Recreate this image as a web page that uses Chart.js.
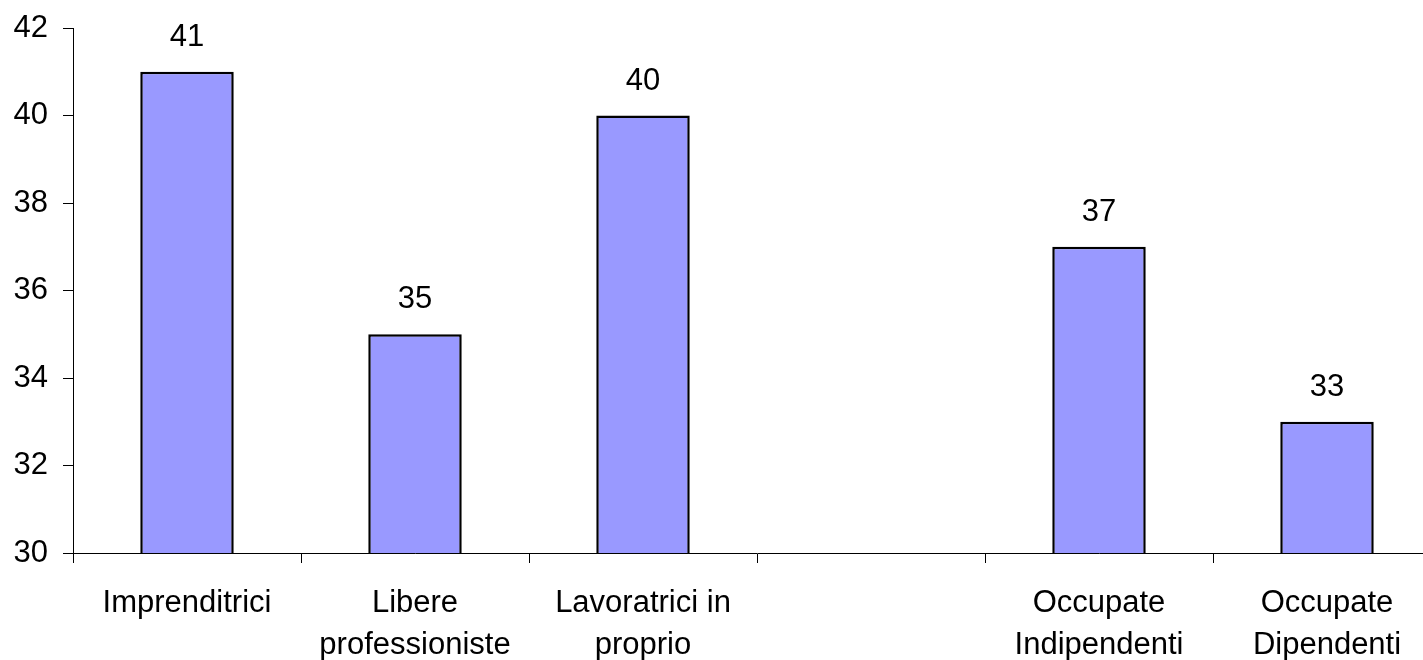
<!DOCTYPE html>
<html>
<head>
<meta charset="utf-8">
<script src="https://cdn.jsdelivr.net/npm/chart.js@4/dist/chart.umd.min.js"></script>
<style>
  html, body { margin: 0; padding: 0; background: #fff; overflow: hidden; }
  #wrap { width: 1460px; height: 660px; }
</style>
</head>
<body>
<div id="wrap"><canvas id="bar-chart" width="1460" height="660"></canvas></div>
<script>
// categorie (lo slot vuoto separa i due gruppi)
var categorie = [
    'Imprenditrici',
    ['Libere', 'professioniste'],
    ['Lavoratrici in', 'proprio'],
    '',
    ['Occupate', 'Indipendenti'],
    ['Occupate', 'Dipendenti']
];
var valori = [41, 35, 40, null, 37, 33];
var yMin = 30, yMax = 42, yStep = 2;

var fontTesto = { family: "'Liberation Sans', Arial, sans-serif", size: 31 };

// etichette sopra le barre
const etichetteValori = {
    id: 'etichetteValori',
    afterDatasetsDraw(chart) {
        const ctx = chart.ctx;
        const meta = chart.getDatasetMeta(0);
        ctx.save();
        ctx.font = fontTesto.size + 'px ' + fontTesto.family;
        ctx.fillStyle = '#000';
        ctx.textAlign = 'center';
        ctx.textBaseline = 'alphabetic';
        meta.data.forEach(function (bar, i) {
            if (valori[i] == null) return;
            ctx.fillText(String(valori[i]), bar.x, bar.y - 26);
        });
        ctx.restore();
    }
};

function barChart() {
    const ctx = document.getElementById('bar-chart').getContext('2d');

    const chart = new Chart(ctx, {
        type: 'bar',
        data: {
            labels: categorie,
            datasets: [
                {
                    data: valori,
                    backgroundColor: '#9999FF',
                    borderColor: '#000',
                    borderWidth: 2.5,
                    borderSkipped: false,
                    categoryPercentage: 1,
                    barPercentage: 0.41
                }
            ]
        },
        options: {
            responsive: false,
            animation: false,
            layout: { padding: { left: 0, top: 28, right: 19, bottom: 0 } },
            plugins: {
                legend: { display: false },
                tooltip: { enabled: false }
            },
            scales: {
                x: {
                    grid: {
                        drawOnChartArea: false,
                        tickLength: 10,
                        color: '#000',
                        offset: true
                    },
                    border: { color: '#000', width: 1 },
                    ticks: {
                        color: '#000',
                        font: { family: fontTesto.family, size: fontTesto.size, lineHeight: 1.34 },
                        padding: 20,
                        maxRotation: 0,
                        autoSkip: false
                    },
                    afterFit: function (scale) { scale.height = 660 - 553; }
                },
                y: {
                    min: yMin,
                    max: yMax,
                    grid: {
                        drawOnChartArea: false,
                        tickLength: 10,
                        color: '#000'
                    },
                    border: { color: '#000', width: 1 },
                    ticks: {
                        stepSize: yStep,
                        color: '#000',
                        font: { family: fontTesto.family, size: fontTesto.size },
                        padding: 15
                    },
                    afterFit: function (scale) {
                        scale.width = 73;
                        scale.paddingTop = 0;
                        scale.paddingBottom = 0;
                    }
                }
            }
        },
        plugins: [etichetteValori]
    });
}

barChart()
</script>
</body>
</html>
